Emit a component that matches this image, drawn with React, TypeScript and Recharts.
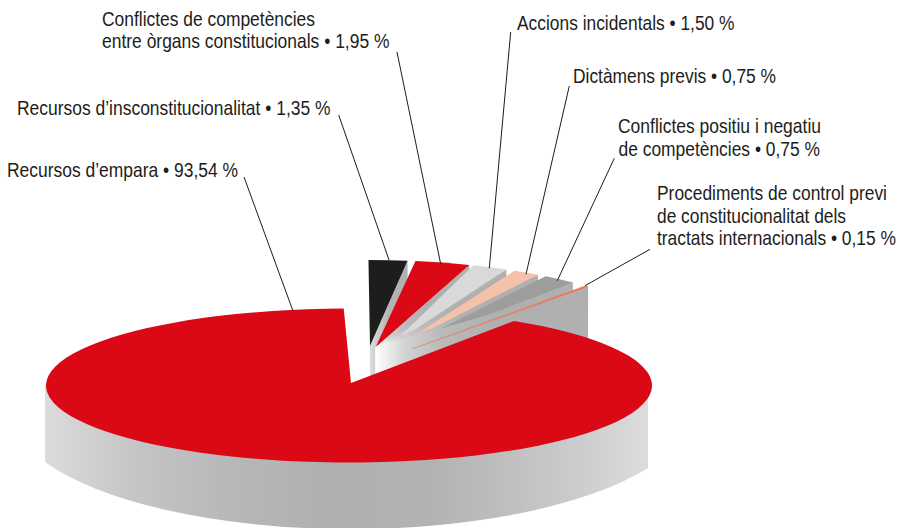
import React from 'react';
import { PieChart, Pie } from 'recharts';

// ---- data ----
const mainCategory = ["Recursos d’empara • 93,54 %"];
const mainValues = [93.54];
const smallCategories = [
  ["Recursos d’insconstitucionalitat • 1,35 %"],
  ["Conflictes de competències", "entre òrgans constitucionals • 1,95 %"],
  ["Accions incidentals • 1,50 %"],
  ["Dictàmens previs • 0,75 %"],
  ["Conflictes positiu i negatiu", "de competències • 0,75 %"],
  ["Procediments de control previ", "de constitucionalitat dels", "tractats internacionals • 0,15 %"],
];
const smallValues = [1.35, 1.95, 1.5, 0.75, 0.75, 0.15];
const smallColors = ['#1d1d1b', '#db0816', '#d9d9d9', '#f6c1ab', '#9d9d9c', '#ee7859'];
const mainColor = '#db0816';

// ---- layout ----
const W = 903;
const H = 528;
const FONT = '"Liberation Sans", Arial, sans-serif';
const FS = 17.8;
const STRETCH_Y = 1.12;
const INK = '#1d1d1b';

const MAIN = { cx: 349, cy: 385.5, rx: 303, ry: 77, start: 91, end: 417 };
const SIDE = { left: 45, leftY: 462, right: 648, rightY: 468, rx: 340, ry: 119 };
const SMALL = { cx: 369, cy: 347, rx: 304, ry: 87, wallDepth: 60, start: 90.1, end: 43.9, pad: 1.7 };
const apexDx = [1, 6.7, 21, 29, 33, 43];
const apexDy = [-1, 0, -1, -1, 1, 2];
// the drawing's small wedges are not strictly proportional: fine offsets of each wedge's edges
const startNudge = [0, 0.7, 2.5, 4.4, 3.6, -0.1];
const endNudge = [0.5, 1.6, 4.5, 3.7, 1.4, 0];

type Line = { x: number; y: number; len: number };
const mainLabel: { lines: Line[]; from: number[]; to: number[] } = {
  lines: [{ x: 7, y: 177, len: 231 }],
  from: [244, 177], to: [293, 311],
};
const smallLabels: { lines: Line[]; from: number[]; to: number[] }[] = [
  { lines: [{ x: 17, y: 115, len: 313.5 }], from: [338.7, 115], to: [389, 260] },
  { lines: [{ x: 102, y: 26, len: 213 }, { x: 102, y: 48, len: 287.5 }], from: [397, 52], to: [440.7, 264] },
  { lines: [{ x: 517, y: 30, len: 217.5 }], from: [510.7, 32], to: [489.3, 268.3] },
  { lines: [{ x: 573, y: 83, len: 203 }], from: [569.3, 86], to: [526, 274.3] },
  { lines: [{ x: 618, y: 133, len: 203 }, { x: 618.5, y: 155.5, len: 201.5 }], from: [614.3, 158.3], to: [557.3, 280.7] },
  { lines: [{ x: 657, y: 200, len: 230 }, { x: 657, y: 222.5, len: 189 }, { x: 657, y: 245, len: 239 }], from: [650, 249.3], to: [585, 285.7] },
];

const pt = (cx: number, cy: number, rx: number, ry: number, deg: number) => {
  const a = (deg * Math.PI) / 180;
  return [cx + rx * Math.cos(a), cy - ry * Math.sin(a)];
};
const fmt = (p: number[]) => `${p[0].toFixed(2)} ${p[1].toFixed(2)}`;

const Defs = () => (
  <defs>
    <linearGradient id="sideGrad" x1="0" y1="0" x2="1" y2="0">
      <stop offset="0" stopColor="#dcdcdc" />
      <stop offset="0.14" stopColor="#c6c6c6" />
      <stop offset="0.3" stopColor="#b8b8b8" />
      <stop offset="0.47" stopColor="#b0b0b0" />
      <stop offset="0.63" stopColor="#b2b2b2" />
      <stop offset="0.72" stopColor="#bababa" />
      <stop offset="0.89" stopColor="#cdcdcd" />
      <stop offset="1" stopColor="#dcdcdc" />
    </linearGradient>
    <linearGradient id="wallGrad" x1="0" y1="0" x2="1" y2="0">
      <stop offset="0" stopColor="#ffffff" />
      <stop offset="0.14" stopColor="#d2d2d2" />
      <stop offset="0.3" stopColor="#bbbbbb" />
      <stop offset="0.55" stopColor="#b0b0b0" />
      <stop offset="1" stopColor="#b0b0b0" />
    </linearGradient>
    <linearGradient id="wallGradFirst" x1="0" y1="0" x2="1" y2="0">
      <stop offset="0" stopColor="#dcdcdc" />
      <stop offset="0.5" stopColor="#b4b4b4" />
      <stop offset="1" stopColor="#b0b0b0" />
    </linearGradient>
  </defs>
);

const MainSector = (props: any) => {
  const { cx, cy, outerRadius, startAngle, endAngle, fill } = props;
  const { ry } = MAIN;
  const rx = outerRadius;
  const s = pt(cx, cy, rx, ry, startAngle);
  const e = pt(cx, cy, rx, ry, endAngle);
  const side = `M ${SIDE.left} ${cy} L ${SIDE.right} ${cy} L ${SIDE.right} ${SIDE.rightY} A ${SIDE.rx} ${SIDE.ry} 0 0 1 ${SIDE.left} ${SIDE.leftY} Z`;
  const face = `M ${cx + 2} ${cy - 2.5} L ${fmt(s)} A ${rx} ${ry} 0 1 0 ${fmt(e)} Z`;
  return (
    <g>
      <Defs />
      <path d={side} fill="url(#sideGrad)" />
      <path d={face} fill={fill} />
    </g>
  );
};

const SmallSector = (props: any) => {
  const { cx, cy, outerRadius, startAngle, endAngle, fill, payload } = props;
  const i: number = payload?.idx ?? props.idx ?? 0;
  const { ry, wallDepth } = SMALL;
  const rx = outerRadius;
  const s = pt(cx, cy, rx, ry, startAngle + startNudge[i]);
  const e = pt(cx, cy, rx, ry, endAngle + endNudge[i]);
  const apex = [cx + apexDx[i], cy + apexDy[i]];
  const wallX = cx + Math.min(apexDx[i], apexDx[1]);
  const wall = `M ${wallX} ${cy} L ${fmt(e)} L ${e[0]} ${e[1] + wallDepth} L ${wallX} ${cy + wallDepth} Z`;
  const face = `M ${fmt(apex)} L ${fmt(s)} A ${rx} ${ry} 0 0 1 ${fmt(e)} Z`;
  const thin = i === smallValues.length - 1;
  return (
    <g>
      <path d={wall} fill={i === 0 ? 'url(#wallGradFirst)' : 'url(#wallGrad)'} />
      <path d={face} fill={fill} stroke={thin ? fill : 'none'} strokeWidth={thin ? 0.35 : 0} />
    </g>
  );
};

const LabelBlock = ({ spec, text }: { spec: { lines: Line[]; from: number[]; to: number[] }; text: string[] }) => (
  <g>
    <line x1={spec.from[0]} y1={spec.from[1]} x2={spec.to[0]} y2={spec.to[1]} stroke={INK} strokeWidth={1} />
    {text.map((t, k) => (
      <text
        key={k}
        x={0}
        y={0}
        transform={`translate(${spec.lines[k].x} ${spec.lines[k].y}) scale(1 ${STRETCH_Y})`}
        fontFamily={FONT}
        fontSize={FS}
        fill={INK}
        textLength={spec.lines[k].len}
        lengthAdjust="spacingAndGlyphs"
      >
        {t}
      </text>
    ))}
  </g>
);

const mainData = mainCategory.map((name, i) => ({ name, value: mainValues[i], idx: i, fill: mainColor }));
const smallData = smallCategories.map((lines, i) => ({
  name: lines.join(' '),
  value: smallValues[i],
  idx: i,
  fill: smallColors[i],
}));

export default function App() {
  return (
    <div style={{ position: 'absolute', left: 0, top: 0, width: W, height: H, overflow: 'hidden', background: '#fff' }}>
      <PieChart width={W} height={H} margin={{ top: 0, right: 0, bottom: 0, left: 0 }}>
        <Pie
          data={smallData}
          dataKey="value"
          nameKey="name"
          cx={SMALL.cx}
          cy={SMALL.cy}
          innerRadius={0}
          outerRadius={SMALL.rx}
          startAngle={SMALL.start}
          endAngle={SMALL.end}
          paddingAngle={SMALL.pad}
          stroke="none"
          isAnimationActive={false}
          shape={SmallSector}
          labelLine={false}
          label={(p: any) => {
            const i = p.payload?.idx ?? p.idx ?? p.index;
            return <LabelBlock key={i} spec={smallLabels[i]} text={smallCategories[i]} />;
          }}
        />
        <Pie
          data={mainData}
          dataKey="value"
          nameKey="name"
          cx={MAIN.cx}
          cy={MAIN.cy}
          innerRadius={0}
          outerRadius={MAIN.rx}
          startAngle={MAIN.start}
          endAngle={MAIN.end}
          stroke="none"
          isAnimationActive={false}
          shape={MainSector}
          labelLine={false}
          label={() => <LabelBlock spec={mainLabel} text={mainCategory} />}
        />
      </PieChart>
    </div>
  );
}
